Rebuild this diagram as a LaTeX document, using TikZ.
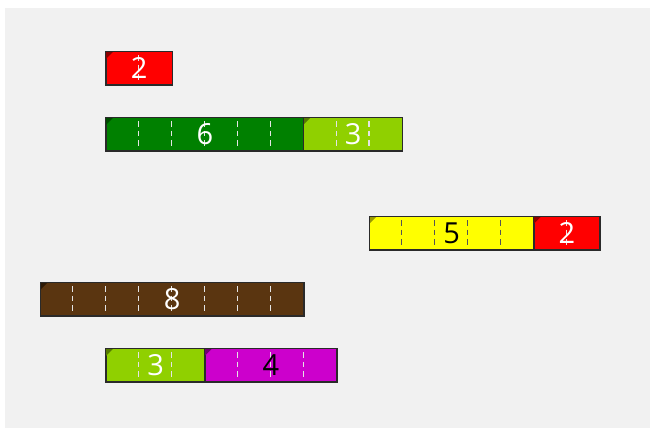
\documentclass[tikz,border=0pt]{standalone}
\usepackage{fontspec}
\setmainfont{Open Sans}
\definecolor{panel}{HTML}{F1F1F1}
\definecolor{rodred}{HTML}{FF0000}
\definecolor{rodredc}{HTML}{8B0000}
\definecolor{rodgreen}{HTML}{008000}
\definecolor{rodgreenc}{HTML}{004A00}
\definecolor{rodlime}{HTML}{90D000}
\definecolor{rodlimec}{HTML}{557A00}
\definecolor{rodyellow}{HTML}{FFFF00}
\definecolor{rodyellowc}{HTML}{9A9A00}
\definecolor{rodbrown}{HTML}{5A3510}
\definecolor{rodbrownc}{HTML}{2E1A06}
\definecolor{rodmag}{HTML}{CC00CC}
\definecolor{rodmagc}{HTML}{700070}
\definecolor{rodedge}{HTML}{2A2A2A}
\definecolor{dashlight}{HTML}{E4E4E4}
\definecolor{dashdark}{HTML}{555555}
\tikzset{
  rodbox/.style={draw=rodedge, line width=1pt, minimum height=33pt, inner sep=0pt, anchor=north west},
  dashline/.style={line width=1.1pt, dash pattern=on 5.5pt off 4pt},
  rodlabel/.style={font=\fontsize{29}{29}\selectfont, inner sep=0pt}
}
\newcommand\myrod[9]{%
  \node[rodbox, fill=#5, minimum width={#4*32.9pt}] (#1) at (#2,#3) {};
  \fill[#6] (#1.north west) -- ++(8,0) -- ++(-8,8) -- cycle;
  \pgfmathtruncatemacro\mylast{#4-1}%
  \foreach \k in {1,...,\mylast}{%
    \draw[dashline, #7] ([xshift=\k*32.9pt, yshift=-4pt]#1.north west) -- ([xshift=\k*32.9pt, yshift=4pt]#1.south west);
  }
  \draw[draw=rodedge, line width=1pt] (#1.north west) rectangle (#1.south east);
  \node[rodlabel, text=#8] (#1l) at (#1.center) {#9};
}
\begin{document}
\begin{tikzpicture}[x=1pt,y=-1pt]
\useasboundingbox (0,0) rectangle (655,432);
\fill[panel] (5,8) rectangle (650,428);
\myrod{ra}{105.8}{51}{2}{rodred}{rodredc}{dashlight}{white}{2}
\myrod{ga}{105.8}{117}{6}{rodgreen}{rodgreenc}{dashlight}{white}{6}
\myrod{la}{303.2}{117}{3}{rodlime}{rodlimec}{dashlight}{white}{3}
\myrod{ya}{369}{216}{5}{rodyellow}{rodyellowc}{dashdark}{black}{5}
\myrod{rb}{533.5}{216}{2}{rodred}{rodredc}{dashlight}{white}{2}
\myrod{ba}{40}{282}{8}{rodbrown}{rodbrownc}{dashlight}{white}{8}
\myrod{lb}{105.8}{348}{3}{rodlime}{rodlimec}{dashlight}{white}{3}
\myrod{ma}{204.5}{348}{4}{rodmag}{rodmagc}{dashlight}{black}{4}
\end{tikzpicture}
\end{document}
